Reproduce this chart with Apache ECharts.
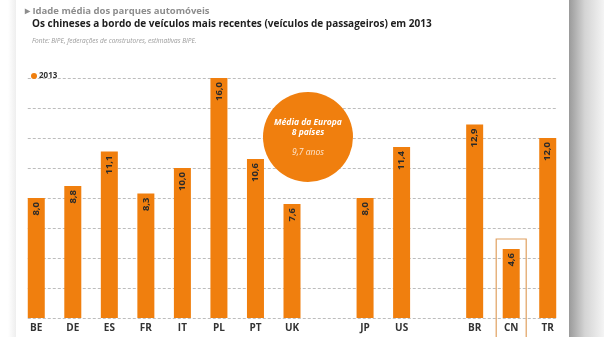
<!DOCTYPE html>
<html><head><meta charset="utf-8">
<script src="https://cdn.jsdelivr.net/npm/echarts@6/dist/echarts.min.js"></script>
<style>html,body{margin:0;padding:0;background:#fff}#c{width:604px;height:337px}</style>
</head><body><div id="c"></div>
<script>
const categories = ['BE','DE','ES','FR','IT','PL','PT','UK','','JP','US','','BR','CN','TR'];
const values2013 = [8.0,8.8,11.1,8.3,10.0,16.0,10.6,7.6,null,8.0,11.4,null,12.9,4.6,12.0];
const yTicks = [0,2,4,6,8,10,12,14,16];
const ORANGE = '#F07F0E';
const BAR_W = 17;

const chart = echarts.init(document.getElementById('c'), null, {renderer:'canvas'});
const option = {
  backgroundColor: '#fff',
  animation: false,
  title: [
    {text:'▸ Idade média dos parques automóveis', left:20, top:1,
     textStyle:{fontFamily:'Open Sans', fontSize:9.5, fontWeight:'bold', color:'#8d8d8d'}},
    {text:'Os chineses a bordo de veículos mais recentes (veículos de passageiros) em 2013', left:27, top:14,
     textStyle:{fontFamily:'Open Sans', fontSize:10, fontWeight:'bold', color:'#1e1e1e'}},
    {text:'Fonte: BIPE, federações de construtores, estimativas BIPE.', left:27, top:33,
     textStyle:{fontFamily:'Open Sans', fontSize:6.5, fontStyle:'italic', fontWeight:'normal', color:'#9a9a9a'}}
  ],
  legend: {left:26, top:67, icon:'circle', itemWidth:6, itemHeight:6, itemGap:4,
    textStyle:{fontFamily:'Open Sans', fontSize:8, fontWeight:'bold', color:'#333', padding:[0,0,0,-3]},
    data:['2013']},
  grid: {left:18, right:38, top:78, bottom:19, containLabel:false},
  xAxis: {type:'category', data:categories,
    axisLine:{show:false}, axisTick:{show:false},
    axisLabel:{margin:5, fontFamily:'Open Sans', fontSize:10, fontWeight:'bold', color:'#333'}},
  yAxis: {type:'value', min:yTicks[0], max:yTicks[yTicks.length-1], interval:2,
    axisLabel:{show:false}, axisLine:{show:false}, axisTick:{show:false},
    splitLine:{show:false}},
  series: [{
    name:'2013', type:'bar', data:values2013, barWidth:BAR_W, z:3,
    itemStyle:{color:ORANGE},
    label:{show:true, position:'insideTop', rotate:90, align:'right', verticalAlign:'middle', distance:4,
      fontFamily:'Open Sans', fontSize:9.5, fontWeight:'bold', color:'#2a2a2a',
      formatter: p => p.value.toFixed(1).replace('.', ',')}
  }]
};
chart.setOption(option);

// Gridlines spanning from first bar's left edge to last bar's right edge
const xFirst = chart.convertToPixel({xAxisIndex:0}, categories[0]) - BAR_W/2;
const xLast = chart.convertToPixel({xAxisIndex:0}, categories[categories.length-1]) + BAR_W/2;
const gridGraphics = yTicks.map(v => {
  const y = Math.round(chart.convertToPixel({yAxisIndex:0}, v)) + 0.5;
  return {type:'line', silent:true, z:-1, shape:{x1:xFirst, y1:y, x2:xLast, y2:y},
    style:{stroke:'#bdbdbd', lineWidth:1, lineDash:[3,2]}};
});

const cnIdx = categories.indexOf('CN');
const cnTop = chart.convertToPixel({seriesIndex:0}, [cnIdx, values2013[cnIdx]]);
const cnX = chart.convertToPixel({xAxisIndex:0}, 'CN');
chart.setOption({
  graphic: gridGraphics.concat([
    {type:'rect', shape:{x:569, y:0, width:35, height:337}, silent:true,
     style:{fill:new echarts.graphic.LinearGradient(0,0,1,0,[{offset:0,color:'#9a9a9a'},{offset:0.45,color:'#d4d4d4'},{offset:1,color:'#f4f4f4'}])}},
    {type:'rect', shape:{x:8, y:0, width:8, height:337}, silent:true,
     style:{fill:new echarts.graphic.LinearGradient(0,0,1,0,[{offset:0,color:'rgba(200,200,200,0)'},{offset:1,color:'rgba(200,200,200,0.3)'}])}},
    {type:'rect', shape:{x:cnX-15, y:cnTop[1]-10, width:30, height:337-(cnTop[1]-10)+5}, silent:true,
     style:{fill:'none', stroke:'#E0A060', lineWidth:1.2}},
    {type:'circle', shape:{cx:308, cy:137, r:45}, silent:true, style:{fill:ORANGE}},
    {type:'text', x:308, y:123, silent:true, style:{text:'Média da Europa', fill:'#fff', align:'center', verticalAlign:'middle',
      font:'italic bold 8.5px "Open Sans"'}},
    {type:'text', x:308, y:133, silent:true, style:{text:'8 países', fill:'#fff', align:'center', verticalAlign:'middle',
      font:'italic bold 8.5px "Open Sans"'}},
    {type:'text', x:308, y:153, silent:true, style:{text:'9,7 anos', fill:'#fde6d0', align:'center', verticalAlign:'middle',
      font:'italic 8.5px "Open Sans"'}}
  ])
});
</script></body></html>
